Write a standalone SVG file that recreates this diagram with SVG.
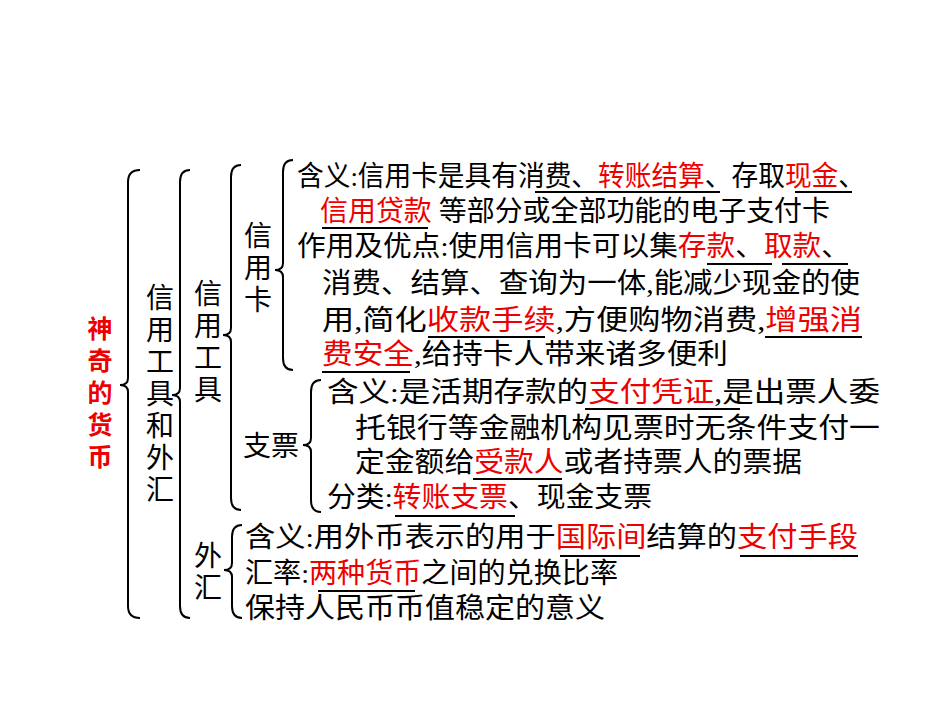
<svg xmlns="http://www.w3.org/2000/svg" width="950" height="713" viewBox="0 0 950 713">
<style>
text{font-family:"Liberation Serif","Noto Sans CJK SC",serif;font-size:28px;fill:#000}
.r{fill:#e00}
.v{text-anchor:middle}
.b{font-family:"Noto Sans CJK SC",sans-serif;font-weight:bold;fill:#e00;font-size:25px}
.br{fill:none;stroke:#000;stroke-width:2}
.u{stroke:#000;stroke-width:2}
</style>
<rect width="950" height="713" fill="#fff"/>
<g id="connectors">
<path class="br" d="M140 170 Q128 170 128 182 L128 378 Q128 385 120 385 Q128 385 128 392 L128 606 Q128 618 140 618"/>
<path class="br" d="M190 170 Q180 170 180 182 L180 388 Q180 395 172 395 Q180 395 180 402 L180 606 Q180 618 190 618"/>
<path class="br" d="M241 165 Q231 165 231 177 L231 328 Q231 335 223 335 Q231 335 231 342 L231 498 Q231 510 241 510"/>
<path class="br" d="M293 160 Q283 160 283 172 L283 263 Q283 270 275 270 Q283 270 283 277 L283 358 Q283 370 293 370"/>
<path class="br" d="M321 380 Q311 380 311 392 L311 438 Q311 445 303 445 Q311 445 311 452 L311 500 Q311 512 321 512"/>
<path class="br" d="M242 525 Q232 525 232 537 L232 563 Q232 570 224 570 Q232 570 232 577 L232 606 Q232 618 242 618"/>
</g>
<g id="n-root"><text class="b v" x="100" y="338">神</text><text class="b v" x="100" y="370">奇</text><text class="b v" x="100" y="402">的</text><text class="b v" x="100" y="434">货</text><text class="b v" x="100" y="466">币</text></g>
<g id="n-xygj"><text class="v" x="160" y="308">信</text><text class="v" x="160" y="340">用</text><text class="v" x="160" y="372">工</text><text class="v" x="160" y="404">具</text><text class="v" x="160" y="436">和</text><text class="v" x="160" y="468">外</text><text class="v" x="160" y="500">汇</text></g>
<g id="n-gj"><text class="v" x="208" y="304">信</text><text class="v" x="208" y="336">用</text><text class="v" x="208" y="368">工</text><text class="v" x="208" y="400">具</text></g>
<g id="n-card"><text class="v" x="258" y="246">信</text><text class="v" x="258" y="278">用</text><text class="v" x="258" y="310">卡</text></g>
<g id="n-check"><text x="243" y="456">支票</text></g>
<g id="n-fx"><text class="v" x="208" y="566">外</text><text class="v" x="208" y="598">汇</text></g>
<g id="n-card-text">
<text x="297" y="186" textLength="568" lengthAdjust="spacingAndGlyphs">含义:信用卡是具有消费、<tspan class="r">转账结算</tspan>、存取<tspan class="r">现金</tspan>、</text>
<text x="320" y="221" textLength="510" lengthAdjust="spacingAndGlyphs"><tspan class="r">信用贷款</tspan> 等部分或全部功能的电子支付卡</text>
<text x="297" y="256" textLength="553" lengthAdjust="spacingAndGlyphs">作用及优点:使用信用卡可以集<tspan class="r">存款</tspan>、<tspan class="r">取款</tspan>、</text>
<text x="322" y="293" textLength="538" lengthAdjust="spacingAndGlyphs">消费、结算、查询为一体,能减少现金的使</text>
<text x="322" y="330" textLength="540" lengthAdjust="spacingAndGlyphs">用,简化<tspan class="r">收款手续</tspan>,方便购物消费,<tspan class="r">增强消</tspan></text>
<text x="322" y="364" textLength="406" lengthAdjust="spacingAndGlyphs"><tspan class="r">费安全</tspan>,给持卡人带来诸多便利</text>
<line class="u" x1="535" y1="192" x2="720" y2="192"/><line class="u" x1="795" y1="192" x2="852" y2="192"/>
<line class="u" x1="322" y1="228" x2="428" y2="228"/><line class="u" x1="707" y1="264" x2="772" y2="264"/><line class="u" x1="782" y1="264" x2="848" y2="264"/>
<line class="u" x1="428" y1="337" x2="545" y2="337"/><line class="u" x1="765" y1="337" x2="862" y2="337"/><line class="u" x1="322" y1="372" x2="410" y2="372"/>
</g>
<g id="n-check-text">
<text x="327" y="402" textLength="553" lengthAdjust="spacingAndGlyphs">含义:是活期存款的<tspan class="r">支付凭证</tspan>,是出票人委</text>
<text x="355" y="438" textLength="525" lengthAdjust="spacingAndGlyphs">托银行等金融机构见票时无条件支付一</text>
<text x="355" y="472" textLength="447" lengthAdjust="spacingAndGlyphs">定金额给<tspan class="r">受款人</tspan>或者持票人的票据</text>
<text x="327" y="507" textLength="325" lengthAdjust="spacingAndGlyphs">分类:<tspan class="r">转账支票</tspan>、现金支票</text>
<line class="u" x1="585" y1="409" x2="740" y2="409"/><line class="u" x1="473" y1="479" x2="562" y2="479"/><line class="u" x1="395" y1="516" x2="515" y2="516"/>
</g>
<g id="n-fx-text">
<text x="245" y="547" textLength="613" lengthAdjust="spacingAndGlyphs">含义:用外币表示的用于<tspan class="r">国际间</tspan>结算的<tspan class="r">支付手段</tspan></text>
<text x="245" y="583" textLength="373" lengthAdjust="spacingAndGlyphs">汇率:<tspan class="r">两种货币</tspan>之间的兑换比率</text>
<text x="245" y="618" textLength="360" lengthAdjust="spacingAndGlyphs">保持人民币币值稳定的意义</text>
<line class="u" x1="560" y1="556" x2="640" y2="556"/><line class="u" x1="740" y1="556" x2="858" y2="556"/><line class="u" x1="318" y1="591" x2="415" y2="591"/>
</g>
</svg>
